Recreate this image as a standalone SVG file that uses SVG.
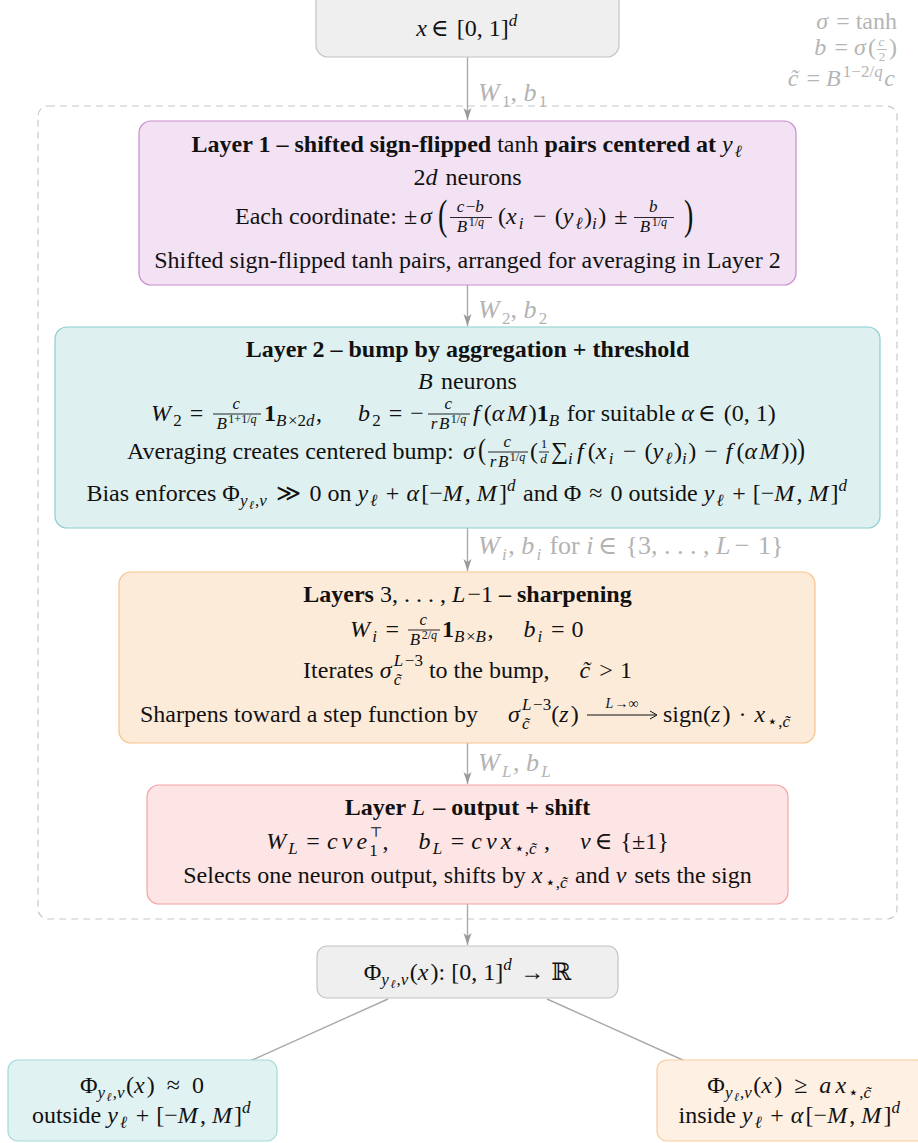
<svg xmlns="http://www.w3.org/2000/svg" width="918" height="1143" viewBox="0 0 918 1143">
<defs>
<style>
text{font-family:"Liberation Serif","DejaVu Serif",serif;font-size:24px;fill:#111}
.m{font-style:italic;letter-spacing:0.09em}
.n{font-weight:normal}
.bd{font-weight:bold}
.s{font-size:17px}
.ss{font-size:12px}
.gr{fill:#b5b5b5}
.lbl{font-size:26px;fill:#b3b3b3}
.fb{stroke:#111;stroke-width:0.9}
.conn{stroke:#a9a9a9;stroke-width:1.4;fill:none}
.gray{fill:#efefef;stroke:#c4c4c4;stroke-width:1.2}
</style>
<marker id="ah" markerUnits="userSpaceOnUse" markerWidth="12" markerHeight="9" viewBox="0 0 12 9" refX="12" refY="4.5" orient="auto">
<path d="M0,0.5 L12,4.5 L0,8.5 L3,4.5 Z" fill="#9a9a9a"/>
</marker>
</defs>
<rect width="918" height="1143" fill="#ffffff"/>

<g id="container">
<rect x="38" y="106" width="859" height="813" rx="10" fill="none" stroke="#c8c8c8" stroke-width="1.2" stroke-dasharray="7,5"/>
</g>

<g id="connectors">
<line class="conn" x1="467.5" y1="57" x2="467.5" y2="120" marker-end="url(#ah)"/>
<line class="conn" x1="467.5" y1="285" x2="467.5" y2="326" marker-end="url(#ah)"/>
<line class="conn" x1="467.5" y1="528" x2="467.5" y2="571" marker-end="url(#ah)"/>
<line class="conn" x1="467.5" y1="743" x2="467.5" y2="784" marker-end="url(#ah)"/>
<line class="conn" x1="467.5" y1="904" x2="467.5" y2="945" marker-end="url(#ah)"/>
<line class="conn" x1="388" y1="999" x2="250" y2="1061"/>
<line class="conn" x1="547" y1="999" x2="685" y2="1061"/>
<text class="lbl" x="478" y="101"><tspan class="m">W</tspan><tspan class="s" dy="6">1</tspan><tspan dy="-6">, </tspan><tspan class="m">b</tspan><tspan class="s" dy="6">1</tspan></text>
<text class="lbl" x="478" y="318"><tspan class="m">W</tspan><tspan class="s" dy="6">2</tspan><tspan dy="-6">, </tspan><tspan class="m">b</tspan><tspan class="s" dy="6">2</tspan></text>
<text class="lbl" x="478" y="554"><tspan class="m">W</tspan><tspan class="s m" dy="6">i</tspan><tspan dy="-6">, </tspan><tspan class="m">b</tspan><tspan class="s m" dy="6">i</tspan><tspan dy="-6"> for </tspan><tspan class="m">i</tspan><tspan dx="2">∈</tspan><tspan dx="2"> {3, . . . , </tspan><tspan class="m">L</tspan><tspan dx="2">−</tspan><tspan dx="2"> 1}</tspan></text>
<text class="lbl" x="478" y="771"><tspan class="m">W</tspan><tspan class="s m" dy="6">L</tspan><tspan dy="-6">, </tspan><tspan class="m">b</tspan><tspan class="s m" dy="6">L</tspan></text>
</g>

<g id="input">
<rect class="gray" x="316" y="-12" width="303" height="69" rx="12"/>
<text x="467.5" y="36" text-anchor="middle"><tspan class="m">x</tspan><tspan dx="2">∈</tspan><tspan dx="2"> [0, 1]</tspan><tspan class="s m" dy="-10">d</tspan></text>
</g>

<g id="notes">
<text class="gr" x="897" y="29" text-anchor="end"><tspan class="m">σ</tspan> = tanh</text>
<text class="gr" x="876" y="55" text-anchor="end"><tspan class="m">b</tspan> = <tspan class="m">σ</tspan>(</text>
<text class="gr m" x="882" y="46" text-anchor="middle" style="font-size:13px">c</text>
<line x1="877" y1="49.5" x2="887" y2="49.5" stroke="#b5b5b5" stroke-width="0.9"/>
<text class="gr" x="882" y="61" text-anchor="middle" style="font-size:13px">2</text>
<text class="gr" x="889" y="55">)</text>
<text class="gr" x="897" y="86" text-anchor="end"><tspan class="m">c̃</tspan> = <tspan class="m">B</tspan><tspan class="s" dy="-9">1−2/<tspan class="m">q</tspan></tspan><tspan class="m" dy="9">c</tspan></text>
</g>

<g id="layer1">
<rect x="139" y="121" width="657" height="164" rx="12" fill="#f2e2f3" stroke="#c98ccf" stroke-width="1.2"/>
<text class="bd" x="467.5" y="152" text-anchor="middle">Layer 1 – shifted sign-flipped <tspan class="n">tanh</tspan> pairs centered at <tspan class="n m">y</tspan><tspan class="n m s" dy="5">ℓ</tspan></text>
<text x="467.5" y="185" text-anchor="middle">2<tspan class="m">d</tspan> neurons</text>
<text x="235" y="224">Each coordinate:</text>
<text x="404" y="224">±</text>
<text class="m" x="420" y="224">σ</text>
<text transform="translate(438,228.5) scale(1,1.5)" style="font-size:28px">(</text>
<text class="s" x="471" y="212" text-anchor="middle"><tspan class="m">c</tspan>−<tspan class="m">b</tspan></text>
<line class="fb" x1="450" y1="217.5" x2="492" y2="217.5"/>
<text class="s" x="471" y="232" text-anchor="middle"><tspan class="m">B</tspan><tspan class="ss" dy="-6">1/<tspan class="m">q</tspan></tspan></text>
<text x="498" y="224">(<tspan class="m">x</tspan><tspan class="s m" dy="5">i</tspan><tspan dy="-5" dx="2"> −</tspan><tspan dx="2"> (</tspan><tspan class="m">y</tspan><tspan class="s m" dy="5">ℓ</tspan><tspan dy="-5">)</tspan><tspan class="s m" dy="5">i</tspan><tspan dy="-5">)</tspan><tspan dx="2"> ±</tspan></text>
<text class="s m" x="654" y="212" text-anchor="middle">b</text>
<line class="fb" x1="634" y1="217.5" x2="674" y2="217.5"/>
<text class="s" x="654" y="232" text-anchor="middle"><tspan class="m">B</tspan><tspan class="ss" dy="-6">1/<tspan class="m">q</tspan></tspan></text>
<text transform="translate(684,228.5) scale(1,1.5)" style="font-size:28px">)</text>
<text x="467.5" y="268" text-anchor="middle">Shifted sign-flipped tanh pairs, arranged for averaging in Layer 2</text>
</g>

<g id="layer2">
<rect x="55" y="327" width="825" height="201" rx="12" fill="#dff0f0" stroke="#8ecece" stroke-width="1.2"/>
<text class="bd" x="467.5" y="357" text-anchor="middle">Layer 2 – bump by aggregation + threshold</text>
<text x="467.5" y="389" text-anchor="middle"><tspan class="m">B</tspan> neurons</text>
<text x="151" y="421"><tspan class="m">W</tspan><tspan class="s" dy="5">2</tspan><tspan dy="-5" dx="2"> =</tspan><tspan dx="2"> </tspan></text>
<text class="s m" x="237" y="409" text-anchor="middle">c</text>
<line class="fb" x1="213" y1="414" x2="261" y2="414"/>
<text class="s" x="237" y="429" text-anchor="middle"><tspan class="m">B</tspan><tspan class="ss" dy="-6">1+1/<tspan class="m">q</tspan></tspan></text>
<text x="264" y="421"><tspan class="bd">1</tspan><tspan class="s" dy="5"><tspan class="m">B</tspan>×2<tspan class="m">d</tspan></tspan><tspan dy="-5">,</tspan><tspan dx="36" class="m">b</tspan><tspan class="s" dy="5">2</tspan><tspan dy="-5" dx="2"> =</tspan><tspan dx="2"> −</tspan></text>
<text class="s m" x="449" y="409" text-anchor="middle">c</text>
<line class="fb" x1="428" y1="414" x2="470" y2="414"/>
<text class="s" x="449" y="429" text-anchor="middle"><tspan class="m">rB</tspan><tspan class="ss" dy="-6">1/<tspan class="m">q</tspan></tspan></text>
<text x="473" y="421"><tspan class="m">f</tspan><tspan dx="2">(</tspan><tspan class="m">αM</tspan>)<tspan class="bd">1</tspan><tspan class="s m" dy="5">B</tspan><tspan dy="-5"> for suitable </tspan><tspan class="m">α</tspan><tspan dx="2">∈</tspan><tspan dx="2"> (0, 1)</tspan></text>
<text x="127" y="459">Averaging creates centered bump:</text>
<text class="m" x="463" y="459">σ</text>
<text transform="translate(478,459) scale(1,1.25)">(</text>
<text class="s m" x="508" y="447" text-anchor="middle">c</text>
<line class="fb" x1="488" y1="452" x2="528" y2="452"/>
<text class="s" x="508" y="467" text-anchor="middle"><tspan class="m">rB</tspan><tspan class="ss" dy="-6">1/<tspan class="m">q</tspan></tspan></text>
<text x="530" y="459">(</text>
<text x="544" y="448" text-anchor="middle" style="font-size:13px">1</text>
<line class="fb" x1="539" y1="452" x2="549" y2="452"/>
<text class="m" x="544" y="463" text-anchor="middle" style="font-size:13px">d</text>
<text x="551" y="459">∑<tspan class="s m" dy="5">i</tspan></text>
<text x="577" y="459"><tspan class="m">f</tspan><tspan dx="2">(</tspan><tspan class="m">x</tspan><tspan class="s m" dy="5">i</tspan><tspan dy="-5" dx="2"> −</tspan><tspan dx="2"> (</tspan><tspan class="m">y</tspan><tspan class="s m" dy="5">ℓ</tspan><tspan dy="-5">)</tspan><tspan class="s m" dy="5">i</tspan><tspan dy="-5">)</tspan><tspan dx="2"> −</tspan><tspan dx="2"> </tspan><tspan class="m">f</tspan><tspan dx="2">(</tspan><tspan class="m">αM</tspan>))</text>
<text transform="translate(797,459) scale(1,1.25)">)</text>
<text x="467.5" y="501" text-anchor="middle">Bias enforces Φ<tspan class="s" dy="5"><tspan class="m">y</tspan><tspan class="ss m" dy="3">ℓ</tspan><tspan dy="-3">,</tspan><tspan class="m">ν</tspan></tspan><tspan dy="-5" dx="2"> ≫</tspan><tspan dx="2"> 0 on </tspan><tspan class="m">y</tspan><tspan class="s m" dy="5">ℓ</tspan><tspan dy="-5" dx="1"> +</tspan><tspan dx="1"> </tspan><tspan class="m">α</tspan>[−<tspan class="m">M</tspan>, <tspan class="m">M</tspan>]<tspan class="s m" dy="-10">d</tspan><tspan dy="10"> and Φ</tspan><tspan dx="2"> ≈</tspan><tspan dx="2"> 0 outside </tspan><tspan class="m">y</tspan><tspan class="s m" dy="5">ℓ</tspan><tspan dy="-5" dx="1"> +</tspan><tspan dx="1"> [−</tspan><tspan class="m">M</tspan>, <tspan class="m">M</tspan>]<tspan class="s m" dy="-10">d</tspan></text>
</g>

<g id="layer3">
<rect x="119" y="572" width="696" height="171" rx="12" fill="#fdebda" stroke="#f8c38c" stroke-width="1.2"/>
<text class="bd" x="467.5" y="602" text-anchor="middle">Layers <tspan class="n">3, . . . , </tspan><tspan class="n m">L</tspan><tspan class="n">−1</tspan> – sharpening</text>
<text x="350" y="637"><tspan class="m">W</tspan><tspan class="s m" dy="5">i</tspan><tspan dy="-5" dx="1"> =</tspan><tspan dx="1"> </tspan></text>
<text class="s m" x="424" y="625" text-anchor="middle">c</text>
<line class="fb" x1="408" y1="630" x2="440" y2="630"/>
<text class="s" x="424" y="645" text-anchor="middle"><tspan class="m">B</tspan><tspan class="ss" dy="-6">2/<tspan class="m">q</tspan></tspan></text>
<text x="442" y="637"><tspan class="bd">1</tspan><tspan class="s" dy="5"><tspan class="m">B</tspan>×<tspan class="m">B</tspan></tspan><tspan dy="-5">,</tspan><tspan dx="30" class="m">b</tspan><tspan class="s m" dy="5">i</tspan><tspan dy="-5" dx="1"> =</tspan><tspan dx="1"> 0</tspan></text>
<text x="467.5" y="678" text-anchor="middle">Iterates <tspan class="m">σ</tspan><tspan class="s m" dy="7">c̃</tspan><tspan class="s" dx="-9" dy="-19"><tspan class="m">L</tspan>−3</tspan><tspan dy="12"> to the bump,</tspan><tspan dx="30" class="m">c̃</tspan><tspan dx="1"> &gt;</tspan><tspan dx="1"> 1</tspan></text>
<text x="140" y="722">Sharpens toward a step function by</text>
<text x="508" y="722"><tspan class="m">σ</tspan><tspan class="s m" dy="7">c̃</tspan><tspan class="s" dx="-9" dy="-19"><tspan class="m">L</tspan>−3</tspan><tspan dy="12">(<tspan class="m">z</tspan>)</tspan></text>
<text x="622" y="708" text-anchor="middle" style="font-size:14px"><tspan class="m">L</tspan>→∞</text>
<line x1="587" y1="715" x2="656" y2="715" stroke="#111" stroke-width="1"/>
<path d="M650,711 L657,715 L650,719" fill="none" stroke="#111" stroke-width="1"/>
<text x="663" y="722">sign(<tspan class="m">z</tspan>)<tspan dx="2"> ·</tspan><tspan dx="2"> </tspan><tspan class="m">x</tspan><tspan class="s" dy="5">⋆,<tspan class="m">c̃</tspan></tspan></text>
</g>

<g id="layerL">
<rect x="147" y="785" width="641" height="119" rx="12" fill="#fde4e5" stroke="#f3a2a6" stroke-width="1.2"/>
<text class="bd" x="467.5" y="815" text-anchor="middle">Layer <tspan class="n m">L</tspan> – output + shift</text>
<text x="467.5" y="849" text-anchor="middle"><tspan class="m">W</tspan><tspan class="s m" dy="5">L</tspan><tspan dy="-5" dx="1"> =</tspan><tspan dx="1"> </tspan><tspan class="m">c</tspan><tspan class="m" dx="2">ν</tspan><tspan class="m" dx="2">e</tspan><tspan class="s" dy="7">1</tspan><tspan dx="-8.5" dy="-19" style="font-size:14px">⊤</tspan><tspan dy="12">,</tspan><tspan dx="30" class="m">b</tspan><tspan class="s m" dy="5">L</tspan><tspan dy="-5" dx="1"> =</tspan><tspan dx="1"> </tspan><tspan class="m">c</tspan><tspan class="m" dx="2">ν</tspan><tspan class="m" dx="2">x</tspan><tspan class="s" dy="5">⋆,<tspan class="m">c̃</tspan></tspan><tspan dy="-5"> ,</tspan><tspan dx="30" class="m">ν</tspan><tspan dx="2">∈</tspan><tspan dx="2"> {±1}</tspan></text>
<text x="467.5" y="883" text-anchor="middle">Selects one neuron output, shifts by <tspan class="m">x</tspan><tspan class="s" dy="5">⋆,<tspan class="m">c̃</tspan></tspan><tspan dy="-5"> and </tspan><tspan class="m">ν</tspan> sets the sign</text>
</g>

<g id="output">
<rect class="gray" x="317" y="946" width="301" height="52" rx="10"/>
<text x="467.5" y="980" text-anchor="middle">Φ<tspan class="s" dy="5"><tspan class="m">y</tspan><tspan class="ss m" dy="3">ℓ</tspan><tspan dy="-3">,</tspan><tspan class="m">ν</tspan></tspan><tspan dy="-5">(</tspan><tspan class="m">x</tspan>): [0, 1]<tspan class="s m" dy="-10">d</tspan><tspan dy="10" dx="1"> →</tspan><tspan dx="1"> ℝ</tspan></text>
</g>

<g id="outside">
<rect x="8" y="1060" width="269" height="81" rx="10" fill="#e1f2f2" stroke="#a6d8d8" stroke-width="1.2"/>
<text x="142" y="1093" text-anchor="middle">Φ<tspan class="s" dy="5"><tspan class="m">y</tspan><tspan class="ss m" dy="3">ℓ</tspan><tspan dy="-3">,</tspan><tspan class="m">ν</tspan></tspan><tspan dy="-5">(</tspan><tspan class="m">x</tspan>) <tspan dx="6">≈</tspan> <tspan dx="6">0</tspan></text>
<text x="142" y="1123" text-anchor="middle">outside <tspan class="m">y</tspan><tspan class="s m" dy="5">ℓ</tspan><tspan dy="-5" dx="1"> +</tspan><tspan dx="1"> [−</tspan><tspan class="m">M</tspan>, <tspan class="m">M</tspan>]<tspan class="s m" dy="-10">d</tspan></text>
</g>

<g id="inside">
<rect x="657" y="1060" width="269" height="81" rx="10" fill="#fef0e3" stroke="#f9cb9a" stroke-width="1.2"/>
<text x="790" y="1093" text-anchor="middle">Φ<tspan class="s" dy="5"><tspan class="m">y</tspan><tspan class="ss m" dy="3">ℓ</tspan><tspan dy="-3">,</tspan><tspan class="m">ν</tspan></tspan><tspan dy="-5">(</tspan><tspan class="m">x</tspan>) <tspan dx="6">≥</tspan> <tspan dx="6" class="m">a</tspan><tspan class="m" dx="2">x</tspan><tspan class="s" dy="5">⋆,<tspan class="m">c̃</tspan></tspan></text>
<text x="790" y="1123" text-anchor="middle">inside <tspan class="m">y</tspan><tspan class="s m" dy="5">ℓ</tspan><tspan dy="-5" dx="1"> +</tspan><tspan dx="1"> </tspan><tspan class="m">α</tspan>[−<tspan class="m">M</tspan>, <tspan class="m">M</tspan>]<tspan class="s m" dy="-10">d</tspan></text>
</g>
</svg>
